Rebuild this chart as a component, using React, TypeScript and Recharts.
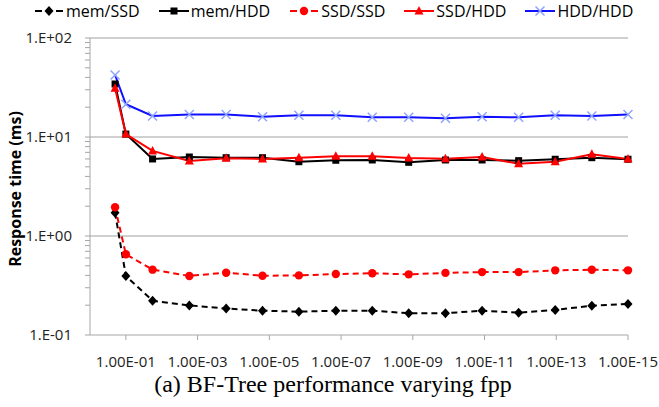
import React from "react";
import { LineChart, Line, XAxis, YAxis, ReferenceLine } from "recharts";

// false positive probability of each measured point
const fpp = [
  2.0e-1, 1.0e-1, 1.8e-2, 1.7e-3, 1.6e-4, 1.55e-5, 1.5e-6, 1.4e-7, 1.35e-8,
  1.3e-9, 1.23e-10, 1.17e-11, 1.12e-12, 1.07e-13, 1.02e-14, 1.0e-15,
];

// response time (ms)
const memSSD = [1.72, 0.395, 0.222, 0.199, 0.185, 0.176, 0.172, 0.176, 0.176, 0.166, 0.166, 0.176, 0.168, 0.179, 0.198, 0.206];
const memHDD = [34.3, 10.7, 6.0, 6.28, 6.18, 6.18, 5.63, 5.82, 5.86, 5.55, 5.86, 5.86, 5.77, 5.96, 6.18, 5.96];
const ssdSSD = [1.95, 0.653, 0.457, 0.395, 0.426, 0.397, 0.4, 0.413, 0.42, 0.41, 0.424, 0.432, 0.432, 0.45, 0.456, 0.45];
const ssdHDD = [31.0, 10.7, 7.23, 5.73, 6.1, 6.0, 6.18, 6.38, 6.38, 6.14, 6.04, 6.28, 5.37, 5.63, 6.68, 6.0];
const hddHDD = [42.3, 21.4, 16.3, 16.9, 16.9, 16.0, 16.6, 16.6, 15.8, 15.8, 15.5, 16.0, 15.8, 16.6, 16.3, 16.9];

// x ticks: exponents shown as 1.00E-xx
const xTicks = [1, 3, 5, 7, 9, 11, 13, 15];
const decades = [0.1, 1, 10, 100];
const minorTicks = [2, 3, 4, 5, 6, 7, 8, 9].flatMap((m) => [m * 0.1, m, m * 10]);

const series = [
  { key: "memSSD", name: "mem/SSD", color: "#000000", dashed: true, shape: "diamond" },
  { key: "memHDD", name: "mem/HDD", color: "#000000", dashed: false, shape: "square" },
  { key: "ssdSSD", name: "SSD/SSD", color: "#ff0000", dashed: true, shape: "circle" },
  { key: "ssdHDD", name: "SSD/HDD", color: "#ff0000", dashed: false, shape: "triangle" },
  { key: "hddHDD", name: "HDD/HDD", color: "#1010ff", dashed: false, shape: "cross", marker: "#8ea4ff" },
];

const data = fpp.map((f, i) => ({
  x: -Math.log10(f),
  memSSD: memSSD[i],
  memHDD: memHDD[i],
  ssdSSD: ssdSSD[i],
  ssdHDD: ssdHDD[i],
  hddHDD: hddHDD[i],
}));

const FONT = "'Open Sans', sans-serif";
const AXIS = "#a6a6a6";
const TEXT = "#222";

function Marker({ shape, cx, cy, color }: any) {
  switch (shape) {
    case "diamond":
      return <path d={`M${cx} ${cy - 5}L${cx + 4.5} ${cy}L${cx} ${cy + 5}L${cx - 4.5} ${cy}Z`} fill={color} />;
    case "square":
      return <rect x={cx - 3.5} y={cy - 3.5} width={7} height={7} fill={color} />;
    case "circle":
      return <circle cx={cx} cy={cy} r={4.2} fill={color} />;
    case "triangle":
      return <path d={`M${cx} ${cy - 5}L${cx + 4.5} ${cy + 3.5}L${cx - 4.5} ${cy + 3.5}Z`} fill={color} />;
    default:
      return (
        <path
          d={`M${cx - 4.5} ${cy - 4.5}L${cx + 4.5} ${cy + 4.5}M${cx + 4.5} ${cy - 4.5}L${cx - 4.5} ${cy + 4.5}`}
          stroke={color}
          strokeWidth={1.5}
          fill="none"
        />
      );
  }
}

const fmtY = (v: number) => {
  const e = Math.round(Math.log10(v));
  return `1.E${e < 0 ? "-" : "+"}${String(Math.abs(e)).padStart(2, "0")}`;
};

const YTick = ({ x, y, payload }: any) => {
  const v = payload.value;
  const major = decades.some((d) => Math.abs(d - v) / d < 1e-6);
  return (
    <g>
      <line x1={x - 5} x2={x} y1={y} y2={y} stroke={AXIS} />
      {major && (
        <text x={x - 18} y={y} dy={5} textAnchor="end" fontSize={15} fontFamily={FONT} fill={TEXT}>
          {fmtY(v)}
        </text>
      )}
    </g>
  );
};

function LegendIcon({ s }: any) {
  return (
    <svg width={30} height={14}>
      {s.dashed ? (
        <>
          <line x1={1} x2={8} y1={7} y2={7} stroke={s.color} strokeWidth={2} />
          <line x1={22} x2={29} y1={7} y2={7} stroke={s.color} strokeWidth={2} />
        </>
      ) : (
        <line x1={0} x2={30} y1={7} y2={7} stroke={s.color} strokeWidth={2} />
      )}
      <Marker shape={s.shape} cx={15} cy={7} color={s.marker || s.color} />
    </svg>
  );
}

export default function App() {
  return (
    <div style={{ position: "absolute", left: 0, top: 0, width: 659, height: 407, background: "#fff" }}>
      <LineChart width={659} height={407} data={data} margin={{ top: 38, right: 31, bottom: 42, left: 0 }}>
        <XAxis
          type="number"
          dataKey="x"
          domain={[0, 15]}
          ticks={xTicks}
          interval={0}
          tickFormatter={(v: number) => `1.00E-${String(v).padStart(2, "0")}`}
          tick={{ fontSize: 15, fontFamily: FONT, fill: TEXT }}
          tickLine={{ stroke: AXIS }}
          axisLine={{ stroke: AXIS }}
          tickSize={5}
          tickMargin={16}
          height={30}
        />
        <YAxis
          type="number"
          scale="log"
          domain={[0.1, 100]}
          allowDataOverflow
          ticks={[...decades, ...minorTicks]}
          interval={0}
          tick={<YTick />}
          tickLine={false}
          tickSize={0}
          tickMargin={0}
          axisLine={{ stroke: AXIS }}
          width={90}
        />
        {decades.slice(1).map((d) => (
          <ReferenceLine key={d} y={d} stroke="#a0a0a0" strokeWidth={1} />
        ))}
        {series.map((s) => (
          <Line
            key={s.key}
            type="linear"
            dataKey={s.key}
            name={s.name}
            stroke={s.color}
            strokeWidth={2}
            strokeDasharray={s.dashed ? "6 4" : undefined}
            isAnimationActive={false}
            activeDot={false}
            dot={(p: any) => (
              <g key={`${s.key}-${p.index}`}>
                {p.cx != null && p.cy != null && (
                  <Marker shape={s.shape} cx={p.cx} cy={p.cy} color={s.marker || s.color} />
                )}
              </g>
            )}
          />
        ))}
      </LineChart>

      <div
        style={{
          position: "absolute",
          left: 34,
          top: 0,
          height: 22,
          display: "flex",
          alignItems: "center",
          gap: 19,
          fontFamily: FONT,
          fontSize: 16,
          color: "#000",
          whiteSpace: "nowrap",
        }}
      >
        {series.map((s) => (
          <div key={s.key} style={{ display: "flex", alignItems: "center" }}>
            <LegendIcon s={s} />
            <span style={{ marginLeft: 2, lineHeight: "22px" }}>{s.name}</span>
          </div>
        ))}
      </div>

      <svg width={659} height={407} style={{ position: "absolute", left: 0, top: 0, pointerEvents: "none" }}>
        <text
          x={0}
          y={0}
          transform="translate(21,189) rotate(-90)"
          textAnchor="middle"
          fontFamily={FONT}
          fontWeight="bold"
          fontSize={16}
          fill="#000"
        >
          Response time (ms)
        </text>
        <text x={333} y={392} textAnchor="middle" fontFamily="'Liberation Serif', serif" fontSize={24} fill="#000">
          (a) BF-Tree performance varying fpp
        </text>
      </svg>
    </div>
  );
}
